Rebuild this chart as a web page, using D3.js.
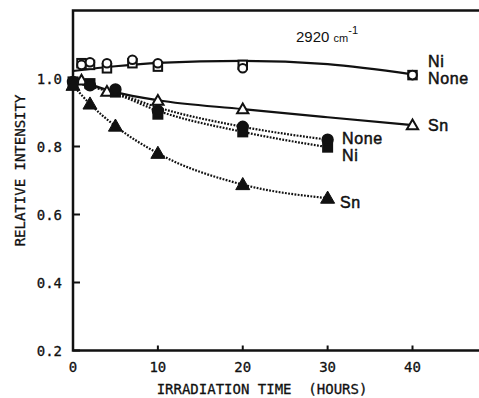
<!DOCTYPE html>
<html>
<head>
<meta charset="utf-8">
<script src="https://cdn.jsdelivr.net/npm/d3@7"></script>
<style>
  html, body { margin: 0; padding: 0; background: #fff; }
  svg { display: block; }
  .tick-label { font-family: "DejaVu Sans Mono", monospace; font-size: 14px; fill: #111; stroke: #111; stroke-width: 0.3px; }
  .axis-title { font-family: "DejaVu Sans Mono", monospace; font-size: 14px; fill: #111; stroke: #111; stroke-width: 0.3px; }
  .series-label { font-family: "Liberation Sans", Arial, sans-serif; font-size: 16px; fill: #111; stroke: #111; stroke-width: 0.5px; letter-spacing: 0.6px; }
</style>
</head>
<body>
<svg id="chart" width="479" height="398"></svg>
<script>
// Irradiation time (hours) and relative intensity of the 2920 cm-1 band.
const xTicks = [0, 10, 20, 30, 40];
const yTicks = [0.2, 0.4, 0.6, 0.8, 1.0];
const yTickLabels = ["0.2", "0.4", "0.6", "0.8", "1.0"];

// Open markers, solid fitted curves
const openNiT     = [1, 2, 4, 7, 10, 20, 40];
const openNiV     = [1.045, 1.040, 1.030, 1.045, 1.035, 1.040, 1.010];
const openNoneT   = [1, 2, 4, 7, 10, 20, 40];
const openNoneV   = [1.040, 1.048, 1.045, 1.055, 1.045, 1.030, 1.010];
const openSnT     = [1, 4, 10, 20, 40];
const openSnV     = [0.995, 0.962, 0.935, 0.910, 0.863];

const fitTopT     = [0, 5, 10, 20, 30, 40];
const fitTopV     = [1.022, 1.036, 1.046, 1.052, 1.042, 1.012];
const fitOpenSnT  = [0, 5, 10, 20, 30, 40];
const fitOpenSnV  = [1.000, 0.960, 0.936, 0.910, 0.886, 0.863];

// Filled markers, dotted curves
const fillNoneT   = [0, 2, 5, 10, 20, 30];
const fillNoneV   = [0.990, 0.980, 0.968, 0.905, 0.858, 0.820];
const fillNiT     = [0, 2, 5, 10, 20, 30];
const fillNiV     = [0.990, 0.985, 0.960, 0.895, 0.843, 0.798];
const fillSnT     = [0, 2, 5, 10, 20, 30];
const fillSnV     = [0.980, 0.925, 0.860, 0.780, 0.688, 0.648];

const fitFillNoneT = [0, 5, 10, 20, 30];
const fitFillNoneV = [0.990, 0.958, 0.915, 0.858, 0.820];
const fitFillNiT   = [0, 5, 10, 20, 30];
const fitFillNiV   = [0.990, 0.955, 0.905, 0.843, 0.798];

const svg = d3.select("#chart");
const W = 479, H = 398;

const x = d3.scaleLinear().domain([0, 40]).range([73, 412.5]);
const y = d3.scaleLinear().domain([0.2, 1.2]).range([350.5, 10.5]);

const zip = (t, v) => t.map((d, i) => [d, v[i]]);

// frame: left, top and bottom edges (open on the right)
const plotLeft = x(0), plotTop = y(1.2), plotBottom = y(0.2);
svg.append("path")
  .attr("d", `M${W},${plotTop}H${plotLeft}V${plotBottom}H${W}`)
  .attr("fill", "none").attr("stroke", "#111").attr("stroke-width", 2.5);

// y ticks (inward) and labels
svg.selectAll(".ytick").data(yTicks).join("line")
  .attr("x1", plotLeft).attr("x2", plotLeft + 7)
  .attr("y1", d => y(d)).attr("y2", d => y(d))
  .attr("stroke", "#111").attr("stroke-width", 2);
svg.selectAll(".ylab").data(yTicks).join("text")
  .attr("class", "tick-label")
  .attr("x", 62).attr("y", d => y(d) + 5)
  .attr("text-anchor", "end")
  .text((d, i) => yTickLabels[i]);

// x ticks (inward) and labels
svg.selectAll(".xtick").data(xTicks).join("line")
  .attr("x1", d => x(d)).attr("x2", d => x(d))
  .attr("y1", plotBottom).attr("y2", plotBottom - 5)
  .attr("stroke", "#111").attr("stroke-width", 2);
svg.selectAll(".xlab").data(xTicks).join("text")
  .attr("class", "tick-label")
  .attr("x", d => x(d)).attr("y", 372)
  .attr("text-anchor", "middle")
  .text(d => d);

svg.append("text").attr("class", "axis-title")
  .attr("x", 262).attr("y", 394).attr("text-anchor", "middle")
  .attr("xml:space", "preserve")
  .text("IRRADIATION TIME  (HOURS)");
svg.append("text").attr("class", "axis-title")
  .attr("transform", `translate(25,${(plotTop + plotBottom) / 2 - 10}) rotate(-90)`)
  .attr("text-anchor", "middle")
  .text("RELATIVE INTENSITY");

// curves
const line = d3.line().x(d => x(d[0])).y(d => y(d[1])).curve(d3.curveMonotoneX);
const solid = (pts) => svg.append("path").attr("d", line(pts))
  .attr("fill", "none").attr("stroke", "#111").attr("stroke-width", 2.2);
const dotted = (pts) => svg.append("path").attr("d", line(pts))
  .attr("fill", "none").attr("stroke", "#111").attr("stroke-width", 2.2)
  .attr("stroke-dasharray", "1.8,1.4");

solid(zip(fitTopT, fitTopV));
solid(zip(fitOpenSnT, fitOpenSnV));
dotted(zip(fitFillNoneT, fitFillNoneV));
dotted(zip(fitFillNiT, fitFillNiV));
dotted(zip(fillSnT, fillSnV));

// markers
const tri = d3.symbol().type(d3.symbolTriangle);
function markers(pts, kind, filled) {
  const g = svg.append("g");
  const sel = g.selectAll("*").data(pts);
  const fill = filled ? "#111" : "#fff";
  if (kind === "circle") {
    sel.join("circle").attr("cx", d => x(d[0])).attr("cy", d => y(d[1]))
      .attr("r", filled ? 5.2 : 4.3).attr("fill", fill)
      .attr("stroke", "#111").attr("stroke-width", 2);
  } else if (kind === "square") {
    const s = filled ? 9 : 8.5;
    sel.join("rect").attr("x", d => x(d[0]) - s / 2).attr("y", d => y(d[1]) - s / 2)
      .attr("width", s).attr("height", s).attr("fill", fill)
      .attr("stroke", "#111").attr("stroke-width", 2);
  } else {
    sel.join("path")
      .attr("d", tri.size(filled ? 85 : 55))
      .attr("transform", d => `translate(${x(d[0])},${y(d[1]) + 1})`)
      .attr("fill", fill).attr("stroke", "#111").attr("stroke-width", filled ? 1 : 2);
  }
}
markers(zip(openNiT, openNiV), "square", false);
markers(zip(openNoneT, openNoneV), "circle", false);
markers(zip(openSnT, openSnV), "triangle", false);
markers(zip(fillNiT, fillNiV), "square", true);
markers(zip(fillNoneT, fillNoneV), "circle", true);
markers(zip(fillSnT, fillSnV), "triangle", true);

// annotation
const ann = svg.append("text").attr("x", 296).attr("y", 42)
  .attr("font-family", "Liberation Sans, Arial, sans-serif").attr("fill", "#111");
ann.append("tspan").attr("font-size", 15).text("2920 ");
ann.append("tspan").attr("font-size", 11).text("cm");
ann.append("tspan").attr("font-size", 11).attr("dy", -8).text("-1");

// series labels
const labels = [
  ["Ni", 428, 67], ["None", 428, 84], ["Sn", 428, 131],
  ["None", 342, 144], ["Ni", 342, 161], ["Sn", 340, 208]
];
svg.selectAll(".slab").data(labels).join("text")
  .attr("class", "series-label")
  .attr("x", d => d[1]).attr("y", d => d[2])
  .text(d => d[0]);
</script>
</body>
</html>
